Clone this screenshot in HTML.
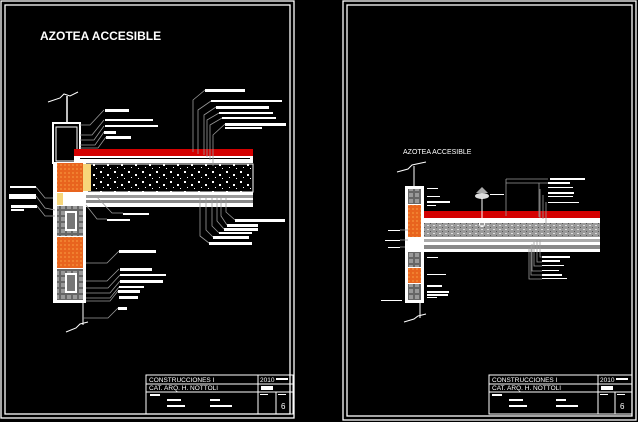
<!DOCTYPE html>
<html><head><meta charset="utf-8"><style>
html,body{margin:0;padding:0;background:#000;}
svg{display:block;}
text{font-family:"Liberation Sans",sans-serif;fill:#fff;}
</style></head><body>
<svg width="638" height="422" viewBox="0 0 638 422" xmlns="http://www.w3.org/2000/svg">
<defs>
<pattern id="agg" width="14" height="10" patternUnits="userSpaceOnUse">
<rect width="14" height="10" fill="#000"/>
<rect x="2" y="1" width="2" height="2" fill="#fff"/><rect x="9" y="4" width="2" height="2" fill="#fff"/>
<rect x="5" y="7" width="1" height="1" fill="#fff"/><rect x="12" y="8" width="1" height="1" fill="#fff"/>
</pattern>
<pattern id="brick" width="4" height="4" patternUnits="userSpaceOnUse">
<rect width="4" height="4" fill="#e8641e"/><rect x="0" y="0" width="2" height="2" fill="#f08030"/>
</pattern>
<pattern id="gconc" width="6" height="4" patternUnits="userSpaceOnUse">
<rect width="6" height="4" fill="#9a9a9a"/><rect x="1" y="1" width="2" height="1" fill="#ddd"/><rect x="4" y="3" width="1" height="1" fill="#555"/>
</pattern>
<pattern id="blk" width="6" height="6" patternUnits="userSpaceOnUse">
<rect width="6" height="6" fill="#666"/><rect x="1" y="1" width="4" height="4" fill="#999"/>
</pattern>
</defs>
<rect width="638" height="422" fill="#000"/>
<!-- frames -->
<g fill="none" stroke="#fff" stroke-width="1.3">
<rect x="1" y="1" width="293" height="417"/><rect x="5" y="5" width="285" height="409"/>
<rect x="343" y="1" width="293" height="419"/><rect x="347" y="5" width="285" height="411"/>
</g>
<text x="40" y="40" font-size="12" font-weight="bold">AZOTEA ACCESIBLE</text>

<!-- LEFT DETAIL -->
<g>
<polyline points="48,102 60,98 64,94 70,96 78,92" fill="none" stroke="#fff"/>
<line x1="67" y1="96" x2="67" y2="123" stroke="#fff" stroke-width="1.5"/>
<rect x="53" y="123" width="27" height="40" fill="none" stroke="#fff" stroke-width="2"/>
<rect x="56" y="127" width="21" height="34" fill="none" stroke="#fff"/>
<!-- slab -->
<rect x="74" y="149" width="179" height="7" fill="#d40000"/>
<rect x="74" y="156" width="179" height="7" fill="#fff"/>
<g fill="#000"><rect x="80" y="158" width="170" height="1"/></g>
<rect x="84" y="164" width="169" height="28" fill="url(#agg)" stroke="#fff"/>
<rect x="60" y="192" width="193" height="15" fill="#fff"/>
<rect x="66" y="195" width="187" height="3" fill="#999"/>
<rect x="66" y="200" width="187" height="3" fill="#888"/>
<!-- wall -->
<rect x="53" y="163" width="33" height="140" fill="#fff"/>
<rect x="57" y="163" width="26" height="29" fill="url(#brick)"/>
<rect x="83" y="164" width="8" height="27" fill="#f7d67a"/>
<rect x="57" y="193" width="6" height="12" fill="#f7d67a"/>
<rect x="57" y="206" width="26" height="30" fill="url(#blk)"/>
<rect x="65" y="211" width="12" height="20" fill="#fff"/><rect x="67" y="213" width="8" height="16" fill="#777"/>
<rect x="57" y="237" width="26" height="31" fill="url(#brick)"/>
<rect x="57" y="269" width="26" height="31" fill="url(#blk)"/>
<rect x="65" y="273" width="12" height="20" fill="#fff"/><rect x="67" y="275" width="8" height="16" fill="#777"/>
<line x1="83" y1="303" x2="83" y2="325" stroke="#fff"/>
<polyline points="66,332 76,328 80,324 88,322" fill="none" stroke="#fff"/>
<!-- labels -->
<g fill="#fff">
<rect x="105" y="109" width="24" height="3"/><rect x="105" y="119" width="48" height="2"/><rect x="105" y="125" width="53" height="2"/>
<rect x="104" y="131" width="12" height="3"/><rect x="106" y="136" width="25" height="3"/>
<rect x="205" y="89" width="40" height="3"/><rect x="211" y="100" width="71" height="2"/><rect x="216" y="106" width="53" height="3"/>
<rect x="219" y="112" width="54" height="2"/><rect x="222" y="117" width="54" height="2"/><rect x="225" y="123" width="61" height="3"/><rect x="225" y="127" width="37" height="2"/>
<rect x="10" y="186" width="26" height="2"/><rect x="9" y="194" width="27" height="5"/><rect x="11" y="205" width="26" height="3"/><rect x="11" y="209" width="13" height="2"/>
<rect x="123" y="213" width="26" height="2"/><rect x="107" y="219" width="23" height="2"/>
<rect x="235" y="219" width="50" height="3"/><rect x="227" y="224" width="31" height="3"/><rect x="224" y="228" width="34" height="3"/>
<rect x="219" y="232" width="33" height="2"/><rect x="213" y="236" width="36" height="3"/><rect x="209" y="242" width="43" height="3"/>
<rect x="119" y="250" width="37" height="3"/><rect x="120" y="268" width="32" height="3"/><rect x="120" y="274" width="46" height="2"/>
<rect x="120" y="280" width="43" height="3"/><rect x="119" y="286" width="25" height="2"/><rect x="118" y="290" width="22" height="3"/>
<rect x="119" y="296" width="19" height="3"/><rect x="118" y="307" width="9" height="3"/>
</g>
<g fill="none" stroke="#999" stroke-width="0.8">
<polyline points="80,125 90,125 104,110"/><polyline points="80,135 92,135 104,120"/><polyline points="80,140 94,140 104,126"/><polyline points="80,145 95,145 104,132"/><polyline points="80,148 98,148 106,137"/>
<polyline points="205,90 193,100 193,152"/><polyline points="211,101 198,110 198,154"/><polyline points="216,107 204,115 204,155"/><polyline points="219,113 207,120 207,157"/><polyline points="222,118 210,125 210,160"/><polyline points="225,124 213,135 213,166"/>
<polyline points="36,187 45,198 53,198"/><polyline points="36,196 45,208 55,210"/><polyline points="37,206 45,216 55,216"/>
<polyline points="95,195 112,213 123,213"/><polyline points="86,205 97,219 107,219"/>
<polyline points="235,220 226,212 226,197"/><polyline points="227,225 221,216 221,197"/><polyline points="224,229 217,221 217,197"/><polyline points="219,233 212,226 212,197"/><polyline points="213,237 206,230 206,197"/><polyline points="209,243 200,236 200,197"/>
<polyline points="86,263 107,263 119,251"/><polyline points="86,281 107,281 119,269"/><polyline points="86,288 108,288 120,275"/><polyline points="86,293 110,293 120,281"/><polyline points="86,298 110,298 119,287"/><polyline points="86,301 110,301 118,291"/><polyline points="83,318 108,318 118,308"/>
</g>
</g>

<!-- RIGHT DETAIL -->
<text x="403" y="154" font-size="7">AZOTEA ACCESIBLE</text>
<g>
<polyline points="397,172 408,169 412,165 426,162" fill="none" stroke="#fff"/>
<line x1="414" y1="166" x2="414" y2="186" stroke="#fff"/>
<rect x="422" y="211" width="178" height="7" fill="#d40000"/>
<rect x="422" y="218" width="178" height="5" fill="#fff"/>
<rect x="424" y="223" width="176" height="14" fill="url(#gconc)"/>
<rect x="412" y="237" width="188" height="15" fill="#fff"/>
<rect x="414" y="239" width="186" height="3" fill="#aaa"/><rect x="414" y="245" width="186" height="4" fill="#888"/>
<rect x="405" y="186" width="19" height="117" fill="#fff"/>
<rect x="408" y="189" width="13" height="15" fill="url(#blk)"/>
<rect x="408" y="205" width="13" height="32" fill="url(#brick)"/>
<rect x="408" y="252" width="13" height="15" fill="url(#blk)"/>
<rect x="408" y="268" width="13" height="15" fill="url(#brick)"/>
<rect x="408" y="284" width="13" height="16" fill="url(#blk)"/>
<line x1="420" y1="303" x2="420" y2="318" stroke="#fff"/>
<polyline points="404,322 414,319 418,316 426,314" fill="none" stroke="#fff"/>
<path d="M476,193 L482,187 L488,193 Z" fill="#aaa"/><ellipse cx="482" cy="196" rx="7" ry="3" fill="#ddd"/>
<line x1="482" y1="198" x2="482" y2="222" stroke="#fff"/><circle cx="482" cy="224" r="2.5" fill="none" stroke="#fff"/>
<g fill="#fff">
<rect x="427" y="188" width="11" height="1"/><rect x="427" y="196" width="13" height="1"/><rect x="427" y="201" width="23" height="2"/><rect x="427" y="205" width="9" height="1"/>
<rect x="490" y="194" width="14" height="1"/>
<rect x="550" y="178" width="35" height="2"/><rect x="548" y="182" width="22" height="2"/><rect x="548" y="187" width="25" height="1"/><rect x="548" y="192" width="26" height="2"/><rect x="548" y="196" width="25" height="1"/><rect x="548" y="202" width="31" height="1"/>
<rect x="388" y="230" width="12" height="1"/><rect x="385" y="240" width="15" height="1"/><rect x="388" y="247" width="12" height="1"/>
<rect x="427" y="257" width="11" height="1"/><rect x="427" y="274" width="19" height="1"/>
<rect x="542" y="256" width="28" height="2"/><rect x="542" y="260" width="18" height="2"/><rect x="542" y="265" width="22" height="1"/><rect x="542" y="270" width="17" height="1"/><rect x="542" y="274" width="20" height="2"/><rect x="542" y="278" width="25" height="1"/>
<rect x="427" y="285" width="15" height="2"/><rect x="427" y="291" width="22" height="2"/><rect x="427" y="294" width="21" height="2"/><rect x="427" y="297" width="10" height="1"/><rect x="381" y="300" width="21" height="1"/>
</g>
<g fill="none" stroke="#999" stroke-width="0.8">
<polyline points="506,179 506,216"/><polyline points="506,179 548,179"/><polyline points="506,183 548,183"/><polyline points="539,183 539,217"/><polyline points="540,189 540,218"/><polyline points="543,195 543,219"/><polyline points="546,202 546,225"/>
<polyline points="400,230 408,230"/><polyline points="400,240 408,240"/><polyline points="400,247 405,247"/>
<polyline points="542,257 540,257 540,240"/><polyline points="542,262 537,262 537,240"/><polyline points="542,266 534,266 534,242"/><polyline points="542,271 532,271 532,244"/><polyline points="542,275 531,275 531,246"/><polyline points="542,279 529,279 529,248"/>
</g>
</g>

<!-- TITLE BLOCKS -->
<g fill="none" stroke="#fff" stroke-width="1">
<rect x="146" y="375" width="147" height="39"/><line x1="146" y1="384" x2="293" y2="384"/><line x1="146" y1="392" x2="293" y2="392"/>
<line x1="258" y1="375" x2="258" y2="414"/><line x1="276" y1="392" x2="276" y2="414"/>
<rect x="489" y="375" width="143" height="39"/><line x1="489" y1="384" x2="632" y2="384"/><line x1="489" y1="392" x2="632" y2="392"/>
<line x1="598" y1="375" x2="598" y2="414"/><line x1="615" y1="392" x2="615" y2="414"/>
</g>
<g font-size="6.5">
<text x="149" y="382">CONSTRUCCIONES I</text><text x="149" y="390">CAT. ARQ. H. NOTTOLI</text>
<text x="260" y="382">2010</text><text x="281" y="409" font-size="8">6</text>
<text x="492" y="382">CONSTRUCCIONES I</text><text x="492" y="390">CAT. ARQ. H. NOTTOLI</text>
<text x="600" y="382">2010</text><text x="620" y="409" font-size="8">6</text>
</g>
<g fill="#fff">
<rect x="150" y="394" width="10" height="2"/><rect x="167" y="399" width="14" height="2"/><rect x="167" y="405" width="18" height="2"/><rect x="210" y="399" width="10" height="2"/><rect x="210" y="405" width="22" height="2"/>
<rect x="260" y="394" width="8" height="1"/><rect x="278" y="394" width="8" height="1"/><rect x="261" y="386" width="12" height="4"/><rect x="276" y="378" width="12" height="2"/>
<rect x="492" y="394" width="10" height="2"/><rect x="509" y="399" width="14" height="2"/><rect x="509" y="405" width="18" height="2"/><rect x="556" y="399" width="10" height="2"/><rect x="556" y="405" width="22" height="2"/>
<rect x="600" y="394" width="8" height="1"/><rect x="617" y="394" width="8" height="1"/><rect x="601" y="386" width="12" height="4"/><rect x="616" y="378" width="12" height="2"/>
</g>
</svg>
</body></html>
